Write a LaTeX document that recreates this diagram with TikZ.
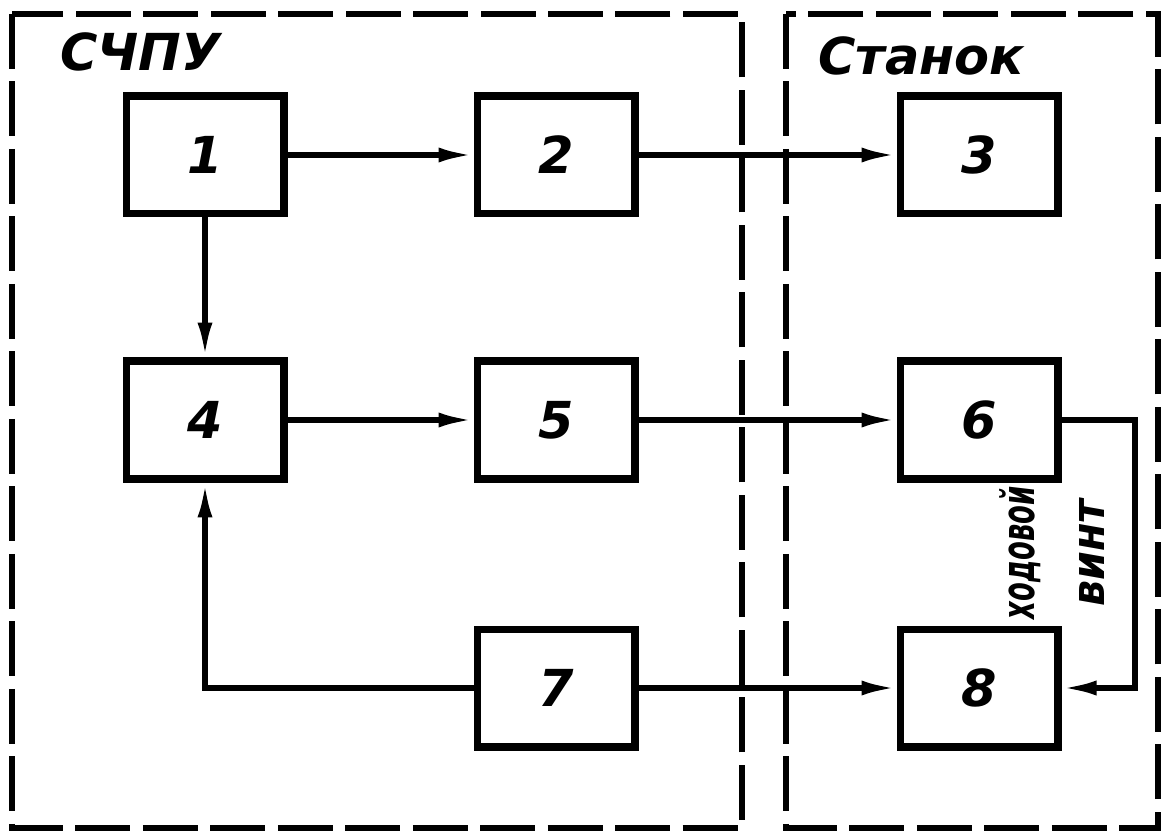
\documentclass[tikz,border=0pt]{standalone}
\usepackage{fontspec}
\usepackage{graphicx}
\setmainfont{DejaVu Sans}
\usetikzlibrary{arrows.meta,positioning}
\tikzset{blk/.style={draw,line width=4pt,minimum width=3.16cm,minimum height=2.36cm,inner sep=0pt,
    font=\fontsize{29}{30}\selectfont\bfseries\itshape},
  arr/.style={-{Latex[length=7mm,width=3mm]},line width=3pt},
  zone/.style={line width=3.4pt,dash pattern=on 1.1cm off 0.25cm},
  ttl/.style={anchor=west,inner sep=0pt,font=\fontsize{29}{30}\selectfont\bfseries\itshape},
  vtxt/.style={rotate=90,inner sep=0pt,font=\fontsize{26}{28}\selectfont\bfseries\itshape}}

\begin{document}
\begin{tikzpicture}[x=0.02cm,y=-0.02cm]
\useasboundingbox (0,0) rectangle (1162,837);
% zones
\draw[zone] (12,14) rectangle (742,828);
\draw[zone] (786,14) rectangle (1158,828);
\node[ttl] (tchpu) at (60,52) {СЧПУ};
\node[ttl] (tstan) at (818,56) {Станок};
% blocks
\node[blk] (b1) at (205,155) {1};
\node[blk] (b2) at (556,155) {2};
\node[blk] (b3) at (979,155) {3};
\node[blk] (b4) at (205,420) {4};
\node[blk] (b5) at (556,420) {5};
\node[blk] (b6) at (979,420) {6};
\node[blk] (b7) at (556,688) {7};
\node[blk] (b8) at (979,688) {8};
\coordinate (fb) at (1135,0);
% links
\draw[arr] (b1) -- (b2);
\draw[arr] (b2) -- (b3);
\draw[arr] (b1) -- (b4);
\draw[arr] (b4) -- (b5);
\draw[arr] (b5) -- (b6);
\draw[arr] (b7) -- (b8);
\draw[arr] (b7.west) -| (b4.south);
\draw[arr] (b6.east) -- (b6.east -| fb) |- (b8.east);
\node[vtxt] (hod) at (1020,553) {\scalebox{0.6}[1]{ходовой}};
\node[vtxt] (vint) at (1092,553) {\scalebox{0.9}[1]{винт}};
\end{tikzpicture}
\end{document}
